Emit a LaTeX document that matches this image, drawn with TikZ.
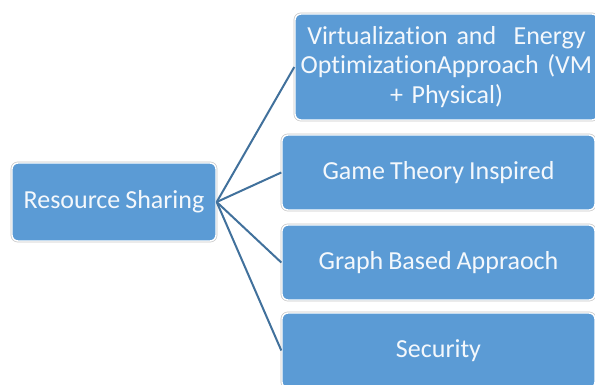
\documentclass[tikz,border=0pt]{standalone}
\usepackage{fontspec}
\setmainfont{Carlito}[Ligatures={NoCommon}, WordSpace={0.85}]
\definecolor{boxblue}{HTML}{5B9BD5}
\definecolor{linkblue}{HTML}{41719C}
\definecolor{txt}{HTML}{F4F8FC}
\begin{document}
\begin{tikzpicture}[x=1pt,y=-1pt,
  box/.style={rectangle, rounded corners=6pt, fill=boxblue, draw=white, line width=1.4pt,
    preaction={draw=black!22, line width=2.8pt},
    text=txt, font=\fontsize{26}{29.5}\selectfont, align=center, inner sep=0pt},
  link/.style={draw=linkblue, line width=2pt}]
\useasboundingbox (0,0) rectangle (595,385);
\clip (0,0) rectangle (595,385);
\fill[white] (0,0) rectangle (595,385);
\node[box, minimum width=204pt, minimum height=78pt] (rs) at (114,202) {Resource Sharing};
\node[box, minimum width=303pt, minimum height=106pt, text width=296pt] (b1) at (446.5,67)
  {Virtualization and\ \ Energy\\ OptimizationApproach (VM\\ + Physical)};
\node[box, minimum width=313pt, minimum height=75pt] (b2) at (438.5,172.5) {Game Theory Inspired};
\node[box, minimum width=313pt, minimum height=75pt] (b3) at (438.5,262.5) {Graph Based Appraoch};
\node[box, minimum width=313pt, minimum height=75pt] (b4) at (438.5,350.5) {Security};
\draw[link] (rs.east) -- (b1.west);
\draw[link] (rs.east) -- (b2.west);
\draw[link] (rs.east) -- (b3.west);
\draw[link] (rs.east) -- (b4.west);
\end{tikzpicture}
\end{document}
